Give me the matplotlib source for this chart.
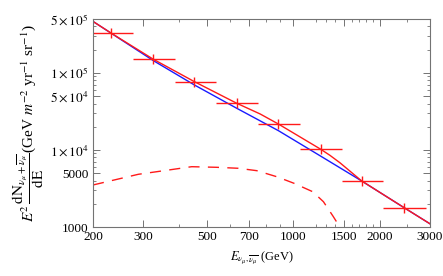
import numpy as np
import matplotlib.pyplot as plt
from matplotlib.ticker import FixedLocator, NullFormatter

plt.rcParams['font.family'] = 'Liberation Serif'
plt.rcParams['mathtext.fontset'] = 'stix'

# binned data points (bin centre, value, bin edges)
bin_centres = [232, 325, 452, 635, 887, 1247, 1734, 2437]
bin_values = [3.26e5, 1.50e5, 7.68e4, 4.03e4, 2.17e4, 1.02e4, 3950, 1780]
bin_lo = [190, 275, 385, 538, 755, 1056, 1476, 2062]
bin_hi = [275, 385, 538, 755, 1056, 1476, 2062, 2900]

# total flux (red solid)
red_E = [200, 232, 325, 452, 635, 766, 887, 1247, 1343, 1456, 1600, 1734, 2437, 3000]
red_flux = [4.65e5, 3.26e5, 1.50e5, 7.68e4, 4.03e4, 2.93e4, 2.17e4, 1.02e4, 8500, 6800, 5070, 3950, 1780, 1100]

# background (blue solid)
blue_E = [200, 232, 325, 452, 635, 887, 1247, 1734, 2437, 3000]
blue_flux = [4.65e5, 3.25e5, 1.44e5, 6.96e4, 3.47e4, 1.78e4, 8300, 3950, 1780, 1100]

# signal (red dashed)
sig_E = [200, 288, 334, 442, 541, 643, 746, 876, 1006, 1169, 1274, 1380, 1456, 1500]
sig_flux = [3510, 4830, 5220, 6060, 5950, 5780, 5380, 4490, 3690, 2870, 2130, 1360, 990, 840]

fig = plt.figure(figsize=(4.43, 2.76), dpi=100)
ax = fig.add_axes([93/443, 1 - 227/276, 337/443, 208/276])

ax.plot(blue_E, blue_flux, color='#1a1aff', lw=1.0)
ax.plot(red_E, red_flux, color='#ff1a1a', lw=1.0)
ax.plot(sig_E, sig_flux, color='#ff1a1a', lw=1.0, dashes=(8, 6))

xerr = [np.array(bin_centres) - np.array(bin_lo), np.array(bin_hi) - np.array(bin_centres)]
ax.errorbar(bin_centres, bin_values, xerr=xerr, fmt='|', color='#ff1a1a',
            ms=7, mew=1.0, elinewidth=1.0, capsize=0)

ax.set_xscale('log')
ax.set_yscale('log')
ax.set_xlim(200, 3000)
ax.set_ylim(1000, 5e5)

xt = [200, 300, 500, 700, 1000, 1500, 2000, 3000]
ax.xaxis.set_major_locator(FixedLocator(xt))
ax.set_xticklabels([str(t) for t in xt])
ax.xaxis.set_minor_locator(FixedLocator([400, 600, 800, 900, 1200, 1300, 1400, 1600, 1700, 1800, 1900, 2500]))
ax.xaxis.set_minor_formatter(NullFormatter())

yt = [1000, 5000, 1e4, 5e4, 1e5, 5e5]
ax.yaxis.set_major_locator(FixedLocator(yt))
ax.set_yticklabels(['1000', '5000', r'$1\times10^4$', r'$5\times10^4$', r'$1\times10^5$', r'$5\times10^5$'])
yminor = [m * 10**k for k in (3, 4, 5) for m in (2, 3, 4, 6, 7, 8, 9)]
ax.yaxis.set_minor_locator(FixedLocator([v for v in yminor if 1000 < v < 5e5]))
ax.yaxis.set_minor_formatter(NullFormatter())

ax.tick_params(which='both', direction='in', top=True, right=True, labelsize=9.5, color='0.45', pad=3)
ax.tick_params(which='major', length=5, width=0.7)
ax.tick_params(which='minor', length=2.5, width=0.6)
for s in ax.spines.values():
    s.set_color('0.45')
    s.set_linewidth(0.8)

ax.set_xlabel(r'$E_{\nu_\mu,\overline{\nu_\mu}}$ (GeV)', fontsize=9, labelpad=5)
ax.set_ylabel(r'$E^2\,\dfrac{\mathrm{dN}_{\nu_\mu+\overline{\nu_\mu}}}{\mathrm{dE}}$(GeV $m^{-2}$ yr$^{-1}$ sr$^{-1}$)',
              fontsize=11, labelpad=3)

fig.savefig('out.png', dpi=100)
